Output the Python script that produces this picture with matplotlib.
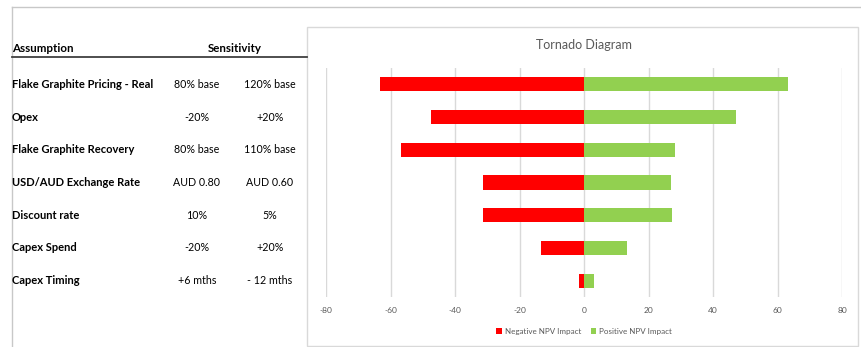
import matplotlib.pyplot as plt
import matplotlib.transforms as mtransforms
from matplotlib.patches import Rectangle

assumptions = ['Flake Graphite Pricing - Real', 'Opex', 'Flake Graphite Recovery',
               'USD/AUD Exchange Rate', 'Discount rate', 'Capex Spend', 'Capex Timing']
low_case = ['80% base', '-20%', '80% base', 'AUD 0.80', '10%', '-20%', '+6 mths']
high_case = ['120% base', '+20%', '110% base', 'AUD 0.60', '5%', '+20%', '- 12 mths']
negative_impact = [-63.3, -47.3, -56.7, -31.3, -31.3, -13.3, -1.5]
positive_impact = [63.2, 47.2, 28.2, 27.0, 27.4, 13.4, 3.2]
ticks = [-80, -60, -40, -20, 0, 20, 40, 60, 80]

red = '#FF0000'
green = '#92D050'
grey_text = '#595959'
grid_col = '#D9D9D9'

plt.rcParams['font.family'] = ['Lato', 'DejaVu Sans']

W, H = 862, 347
fig = plt.figure(figsize=(W / 100, H / 100), dpi=100)

# background axes in pixel coordinates for table and frames
bg = fig.add_axes([0, 0, 1, 1])
bg.set_xlim(0, W)
bg.set_ylim(H, 0)
bg.axis('off')

# chart axes
ax = fig.add_axes([326 / W, 1 - 297 / H, 516 / W, 229 / H])
y = list(range(len(assumptions)))
ax.barh(y, negative_impact, height=0.43, color=red, label='Negative NPV Impact', zorder=3)
ax.barh(y, positive_impact, height=0.43, color=green, label='Positive NPV Impact', zorder=3)
ax.set_xlim(-80, 80)
ax.set_ylim(len(assumptions) - 0.5, -0.5)
ax.set_xticks(ticks)
ax.set_xticklabels([str(t) for t in ticks])
ax.set_yticks([])
ax.tick_params(axis='x', length=0, labelsize=6, labelcolor=grey_text, pad=7)
ax.grid(axis='x', color=grid_col, linewidth=1, zorder=0)
for s in ax.spines.values():
    s.set_visible(False)
ax.patch.set_alpha(0)

# chart frame and title
bg.add_patch(Rectangle((307.5, 27), 551, 319, fill=False, edgecolor=grid_col, linewidth=1))
bg.text(584, 45, 'Tornado Diagram', ha='center', va='center', fontsize=9, color=grey_text)

# legend
leg = ax.legend(loc='center', bbox_to_anchor=(0.5, -0.15), ncol=2, frameon=False,
                fontsize=5.8, handlelength=0.7, handleheight=0.7, handletextpad=0.3,
                columnspacing=1.2)
for t in leg.get_texts():
    t.set_color(grey_text)

# outer lines
bg.plot([12, W], [7, 7], color='#C8C8C8', linewidth=1)
bg.plot([12, 12], [7, H], color='#C8C8C8', linewidth=1)
bg.plot([12, 307], [57, 57], color='#404040', linewidth=1.3)

# table
bg.text(12, 48, 'Assumption', ha='left', va='center', fontsize=8.3, fontweight='bold')
bg.text(235, 48, 'Sensitivity', ha='center', va='center', fontsize=8.3, fontweight='bold')
trans = mtransforms.blended_transform_factory(bg.transData, ax.transData)
for i, name in enumerate(assumptions):
    bg.text(12, i, name, transform=trans, ha='left', va='center', fontsize=8, fontweight='bold')
    bg.text(197, i, low_case[i], transform=trans, ha='center', va='center', fontsize=7.7)
    bg.text(270, i, high_case[i], transform=trans, ha='center', va='center', fontsize=7.7)

fig.savefig('out.png', dpi=100)
